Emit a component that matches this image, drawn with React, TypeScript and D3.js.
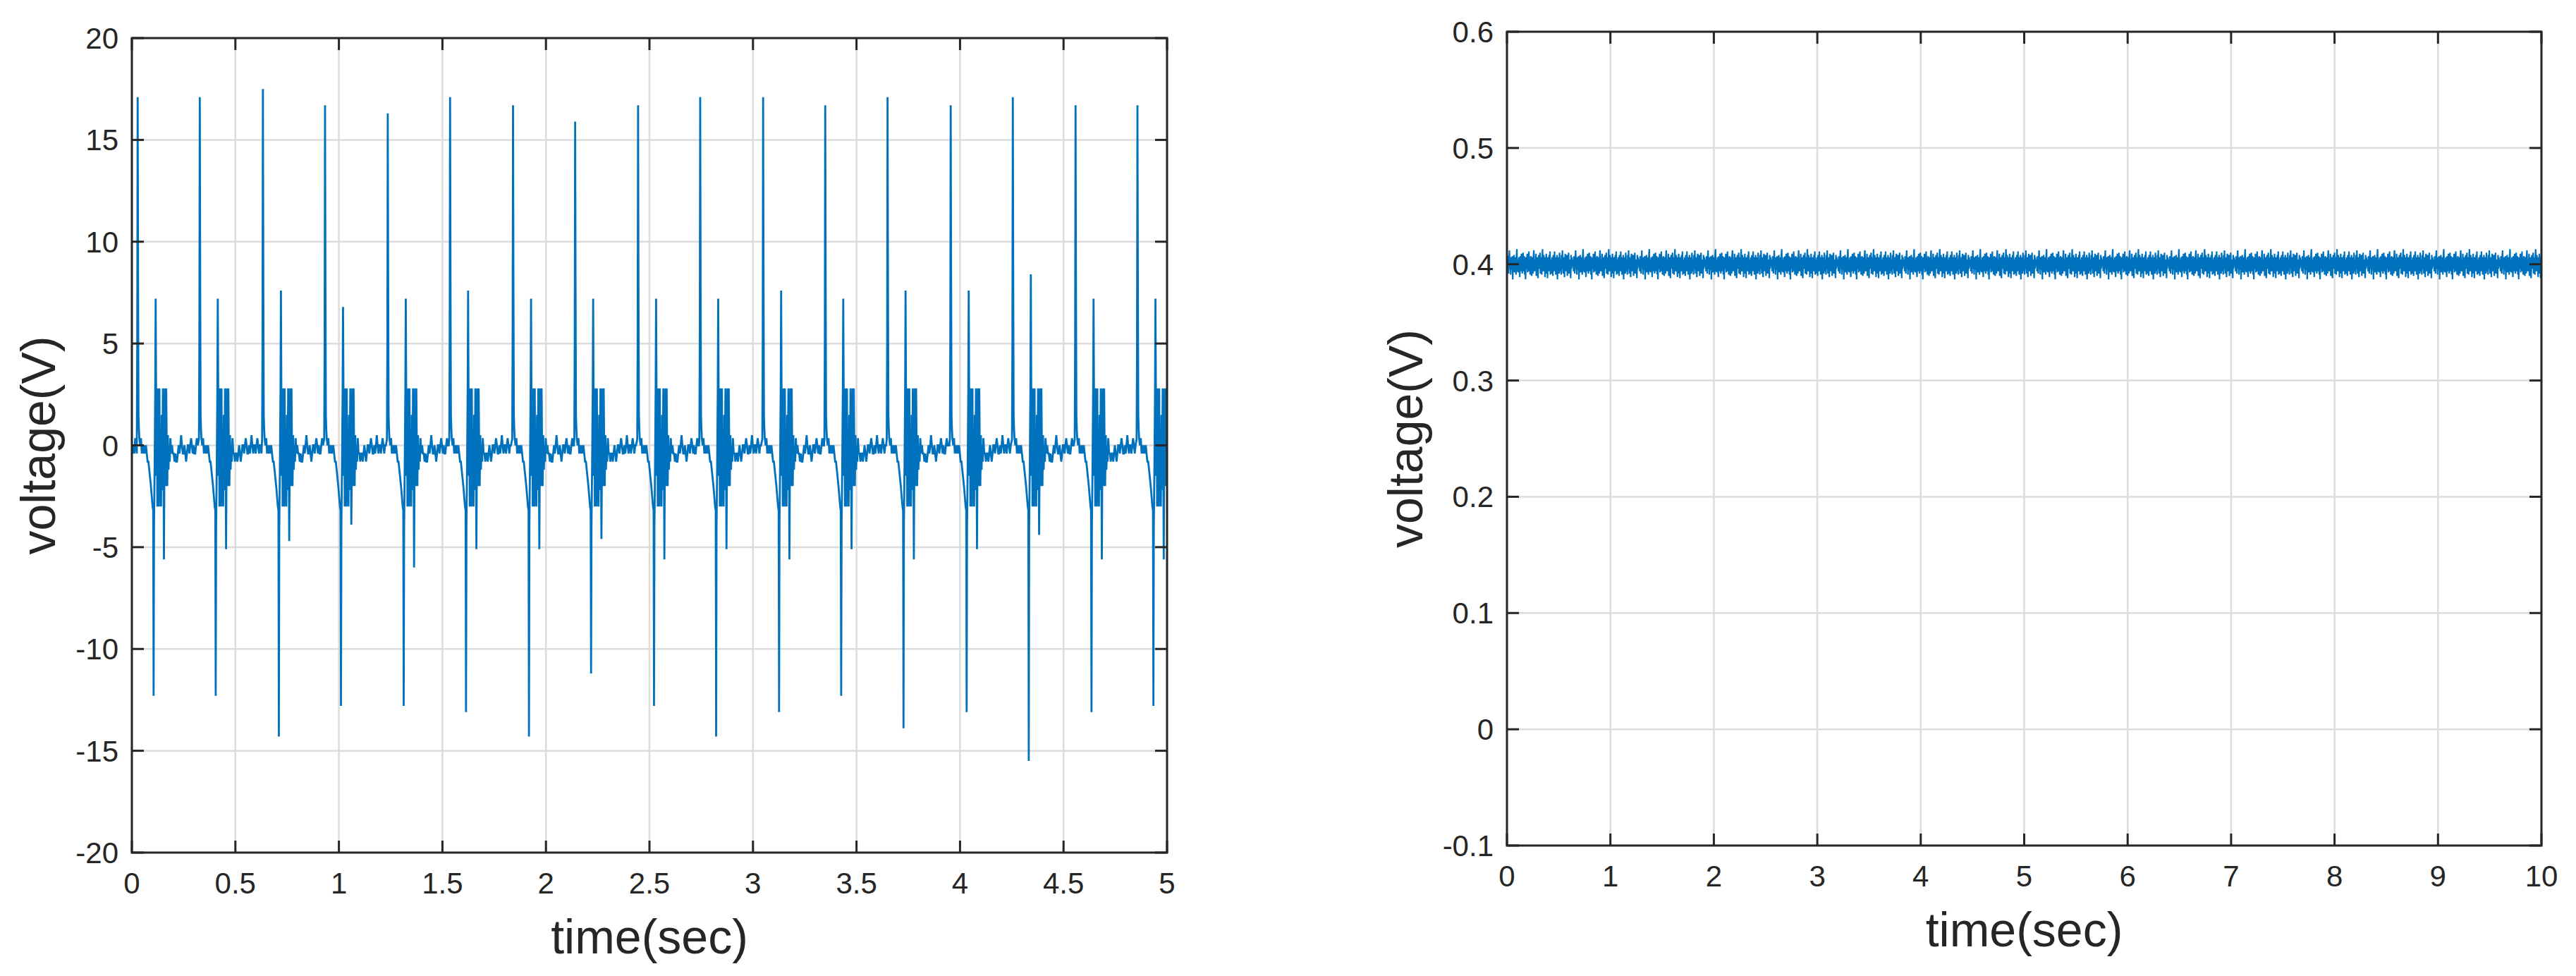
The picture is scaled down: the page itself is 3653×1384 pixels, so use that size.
import React from 'react'
import * as d3 from 'd3'

// ---- left panel: ECG-like signal (0..5 s) ----
const ecgXTicks = [0, 0.5, 1, 1.5, 2, 2.5, 3, 3.5, 4, 4.5, 5]
const ecgYTicks = [-20, -15, -10, -5, 0, 5, 10, 15, 20]

// time of each big R spike (s) and the amplitudes read for each beat (V)
const beatTimes = [0.028, 0.328, 0.633, 0.933, 1.236, 1.537, 1.841, 2.141, 2.445, 2.745, 3.049, 3.349, 3.65, 3.955, 4.255, 4.558, 4.857]
const peakV = [17.1, 17.1, 17.5, 16.7, 16.3, 17.1, 16.7, 15.9, 16.7, 17.1, 17.1, 16.7, 17.1, 16.7, 17.1, 16.7, 16.7]
const negV = [-12.3, -12.3, -14.3, -12.8, -12.8, -13.1, -14.3, -11.2, -12.8, -14.3, -13.1, -12.3, -13.9, -13.1, -15.5, -13.1, -12.8]
const pos2V = [7.2, 7.2, 7.6, 6.8, 7.2, 7.6, 7.2, 7.2, 7.2, 7.2, 7.6, 7.2, 7.6, 7.6, 8.4, 7.2, 7.2]
const neg2V = [-5.6, -5.1, -4.7, -3.9, -6.0, -5.1, -5.1, -4.6, -5.6, -5.1, -5.6, -5.1, -5.6, -5.1, -4.4, -5.6, -5.6]

// shape of one beat: [ms after R spike, value]; named slots take the per-beat amplitude
const beatShape: [number, number | string][] = [
  [-4, 0.3], [-2, 5], [0, 'peak'], [2, 8], [4, 1.5], [6, 0.8], [8, 0.35], [12, 0], [16, 0.35],
  [20, -0.4], [24, 0], [28, -0.4], [32, 0], [36, -0.4], [40, 0], [44, -0.4], [48, -0.8], [52, -0.8],
  [56, -1.2], [60, -1.6], [64, -2.0], [68, -2.5], [72, -3.0], [75, -3.2], [77, 'neg'], [79, -4],
  [82, -1], [85, 2.8], [87, 'pos2'], [89, 2.8], [91, -1.5], [93, 2.8], [95, -3], [97, 2.8], [99, -2.5],
  [101, 1.2], [103, -3], [105, 2.8], [107, -2], [110, 0.5], [113, -3], [116, 1.5], [119, -2.2],
  [122, 2.8], [125, -1], [127, 'neg2'], [129, -1.5], [132, 2.8], [135, -2], [138, 2.8], [141, -1],
  [143, -2], [146, 0.5], [149, -1.2], [152, 0], [155, -0.8], [158, 0.35], [162, -0.4],
]

// quiet baseline between beats, 4 ms apart, starting 166 ms after the spike
const baseA = [0, -0.4, -0.4, -0.8, -0.4, -0.8, -0.8, -0.4, 0, -0.4, 0, 0.5, 0, -0.4, -0.4, 0, -0.4, -0.8, -0.4, 0, 0, -0.4, 0, 0.35, 0, -0.4, 0, -0.4, -0.4, 0, 0.35, 0, 0]
const baseB = [-0.4, -0.8, -0.4, -0.4, -0.8, -0.4, 0, -0.4, -0.8, -0.4, 0, 0, -0.4, 0, 0.35, 0, -0.4, -0.4, 0, -0.4, 0, 0.5, 0, -0.4, 0, 0, -0.4, 0, 0.35, 0, -0.4, 0, 0]
const leadIn = [0, -0.4, 0, -0.4, 0.35, 0, -0.4]

// ---- right panel: flat noisy signal (0..10 s) ----
const flatXTicks = [0, 1, 2, 3, 4, 5, 6, 7, 8, 9, 10]
const flatYTicks = [-0.1, 0, 0.1, 0.2, 0.3, 0.4, 0.5, 0.6]
const flatLevel = 0.4
// deviation from the level, in mV, one sample every 4 ms
const flatNoise = [
  4, -6, 7, -3, -8, 5, 12, -4, 3, -9, 6, -5, 1, 7, -13, 4, -4, 8, -7, 2,
  6, -3, -9, 7, 13, -6, 4, -7, -1, 6, -4, -11, 7, 2, -6, 9, -2, -8, 4, 10,
  -6, 1, 7, -9, 4, -13, 6, -4, 2, 9, -7, 4, -3, 11, -6, 6, -9, 0, 7, -4,
  -10, 6, 2, -8, 7, 12, -4, -6, 4, -2, 9, -10, 2, 6, -6, -12, 4, 8, -4, 2,
  10, -8, 1, 6, -9, 4, 13, -3, -6, 8, -4, 2, -11, 6, -2, 9, -8, 4, -12, 6,
  2, -6, 8, -4, 11, -9, 2, 4, -8, 6, -2, -10, 8, 1, -6, 11, -4, 6, -9, 2,
  -4, 8, -13, 4, -2, 6, -8, 10, 2, -6, 4, -9, 8, -4, 12, -2, -8, 6, 1, -11,
  4, 9, -6, 2, -4, 8, -10, 6, -2, 10, -8, 4, -6, 2, -12, 8, -4, 6, -2, 1,
]

const INK = '#262626'
const GRID = '#dcdcdc'
const LINE = '#0072BD'
const FONT = '"Liberation Sans", Arial, Helvetica, sans-serif'

function buildEcg(): [number, number][] {
  const pts: [number, number][] = []
  leadIn.forEach((v, i) => pts.push([i * 0.004, v]))
  beatTimes.forEach((t0, b) => {
    const amp: Record<string, number> = { peak: peakV[b], neg: negV[b], pos2: pos2V[b], neg2: neg2V[b] }
    beatShape.forEach(([ms, v]) => {
      pts.push([t0 + ms / 1000, typeof v === 'string' ? amp[v] : v])
    })
    const next = b + 1 < beatTimes.length ? beatTimes[b + 1] : 5.02
    const base = b % 2 ? baseB : baseA
    for (let k = 0; ; k++) {
      const t = t0 + (166 + 4 * k) / 1000
      if (t >= next - 0.006) break
      pts.push([t, base[k % base.length]])
    }
  })
  return pts
}

function buildFlat(): [number, number][] {
  const pts: [number, number][] = []
  for (let i = 0; i <= 2500; i++) {
    pts.push([i * 0.004, flatLevel + flatNoise[i % flatNoise.length] / 1000])
  }
  return pts
}

interface PanelProps {
  id: string
  box: { x0: number; x1: number; y0: number; y1: number }
  xDomain: [number, number]
  yDomain: [number, number]
  xTicks: number[]
  yTicks: number[]
  data: [number, number][]
  yLabelX: number
  strokeWidth: number
}

function Panel({ id, box, xDomain, yDomain, xTicks, yTicks, data, yLabelX, strokeWidth }: PanelProps) {
  const x = d3.scaleLinear().domain(xDomain).range([box.x0, box.x1])
  const y = d3.scaleLinear().domain(yDomain).range([box.y1, box.y0])
  const line = d3.line<[number, number]>().x(d => x(d[0])).y(d => y(d[1]))
  const tickLen = 17
  const cx = (box.x0 + box.x1) / 2
  const cy = (box.y0 + box.y1) / 2

  return (
    <g>
      <defs>
        <clipPath id={id}>
          <rect x={box.x0} y={box.y0} width={box.x1 - box.x0} height={box.y1 - box.y0} />
        </clipPath>
      </defs>
      <rect x={box.x0} y={box.y0} width={box.x1 - box.x0} height={box.y1 - box.y0} fill="#fff" />

      {/* grid */}
      {xTicks.map(t => (
        <line key={'gx' + t} x1={x(t)} x2={x(t)} y1={box.y0} y2={box.y1} stroke={GRID} strokeWidth={2.5} />
      ))}
      {yTicks.map(t => (
        <line key={'gy' + t} x1={box.x0} x2={box.x1} y1={y(t)} y2={y(t)} stroke={GRID} strokeWidth={2.5} />
      ))}

      <path d={line(data) || ''} fill="none" stroke={LINE} strokeWidth={strokeWidth}
        strokeLinejoin="miter" strokeMiterlimit={2} clipPath={`url(#${id})`} />

      {/* box and inward ticks on all four sides */}
      <rect x={box.x0} y={box.y0} width={box.x1 - box.x0} height={box.y1 - box.y0}
        fill="none" stroke={INK} strokeWidth={3} />
      {xTicks.map(t => (
        <g key={'tx' + t}>
          <line x1={x(t)} x2={x(t)} y1={box.y1} y2={box.y1 - tickLen} stroke={INK} strokeWidth={3} />
          <line x1={x(t)} x2={x(t)} y1={box.y0} y2={box.y0 + tickLen} stroke={INK} strokeWidth={3} />
          <text x={x(t)} y={box.y1 + 58} textAnchor="middle" fontSize={42} fill={INK} fontFamily={FONT}>{String(t)}</text>
        </g>
      ))}
      {yTicks.map(t => (
        <g key={'ty' + t}>
          <line x1={box.x0} x2={box.x0 + tickLen} y1={y(t)} y2={y(t)} stroke={INK} strokeWidth={3} />
          <line x1={box.x1} x2={box.x1 - tickLen} y1={y(t)} y2={y(t)} stroke={INK} strokeWidth={3} />
          <text x={box.x0 - 19} y={y(t) + 15} textAnchor="end" fontSize={42} fill={INK} fontFamily={FONT}>{String(t)}</text>
        </g>
      ))}

      <text x={cx} y={box.y1 + 143} textAnchor="middle" fontSize={68} fill={INK} fontFamily={FONT}>time(sec)</text>
      <text transform={`translate(${yLabelX},${cy}) rotate(-90)`} textAnchor="middle" fontSize={68} fill={INK} fontFamily={FONT}>voltage(V)</text>
    </g>
  )
}

export default function App() {
  const ecg = buildEcg()
  const flat = buildFlat()
  return (
    <svg width={3653} height={1384} style={{ position: 'absolute', left: 0, top: 0, display: 'block', background: '#fff' }}>
      <rect width={3653} height={1384} fill="#fff" />
      <Panel id="clipL" box={{ x0: 187, x1: 1655, y0: 54, y1: 1209 }} xDomain={[0, 5]} yDomain={[-20, 20]}
        xTicks={ecgXTicks} yTicks={ecgYTicks} data={ecg} yLabelX={78} strokeWidth={2.8} />
      <Panel id="clipR" box={{ x0: 2137, x1: 3604, y0: 45, y1: 1199 }} xDomain={[0, 10]} yDomain={[-0.1, 0.6]}
        xTicks={flatXTicks} yTicks={flatYTicks} data={flat} yLabelX={2017} strokeWidth={2.2} />
    </svg>
  )
}
